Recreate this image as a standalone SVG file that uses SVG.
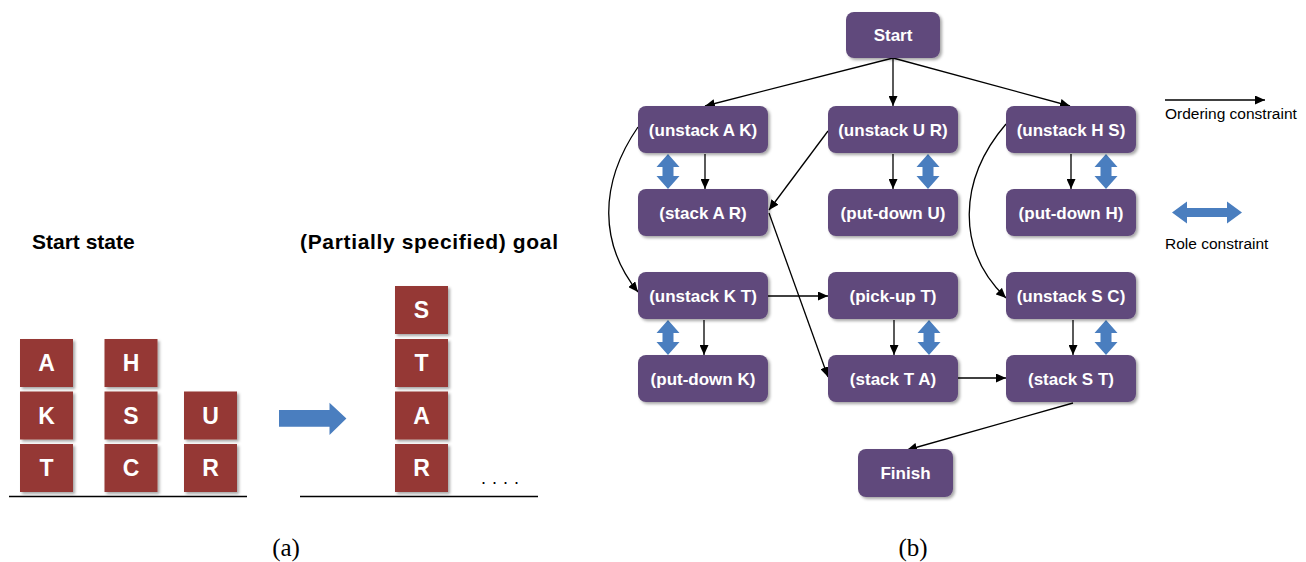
<svg xmlns="http://www.w3.org/2000/svg" width="1306" height="562" viewBox="0 0 1306 562">
<defs>
<filter id="sh" x="-10%" y="-10%" width="130%" height="140%">
<feDropShadow dx="2" dy="2" stdDeviation="1.5" flood-color="#000" flood-opacity="0.35"/>
</filter>
<marker id="ah" markerUnits="userSpaceOnUse" markerWidth="10" markerHeight="9" refX="10" refY="4.5" orient="auto">
<path d="M0,0 L10,4.5 L0,9 z" fill="#000"/>
</marker>
<path id="dbl" d="M0,0 L11.5,13 L5.5,13 L5.5,22 L11.5,22 L0,35 L-11.5,22 L-5.5,22 L-5.5,13 L-11.5,13 z" fill="#4a7ebf"/>
</defs>
<style>
.blk rect{fill:#953735;filter:url(#sh)}
.blk text{fill:#fff;font:bold 23px "Liberation Sans",Arial,sans-serif;text-anchor:middle}
.hd{fill:#000;font:bold 21px "Liberation Sans",Arial,sans-serif}
.node rect{fill:#604a7b;filter:url(#sh)}
.node text{fill:#fff;font:bold 17px "Liberation Sans",Arial,sans-serif;text-anchor:middle}
.edges path{fill:none;stroke:#000;stroke-width:1.3;marker-end:url(#ah)}
.lg{fill:#000;font:15.5px "Liberation Sans",Arial,sans-serif}
.cap{fill:#000;font:25px "Liberation Serif","DejaVu Serif",serif;text-anchor:middle}
.gl{stroke:#000;stroke-width:1.5}
</style>
<rect width="1306" height="562" fill="#fff"/>

<!-- (a) -->
<text class="hd" x="32" y="249">Start state</text>
<text class="hd" x="300" y="249" textLength="258">(Partially specified) goal</text>

<g id="blocks-start" class="blk">
<g id="blk-A"><rect x="20" y="339" width="53" height="48"/><text x="46.5" y="371">A</text></g>
<g id="blk-K"><rect x="20" y="391.5" width="53" height="48"/><text x="46.5" y="423.5">K</text></g>
<g id="blk-T"><rect x="20" y="444" width="53" height="48"/><text x="46.5" y="476">T</text></g>
<g id="blk-H"><rect x="104.5" y="339" width="53" height="48"/><text x="131" y="371">H</text></g>
<g id="blk-S"><rect x="104.5" y="391.5" width="53" height="48"/><text x="131" y="423.5">S</text></g>
<g id="blk-C"><rect x="104.5" y="444" width="53" height="48"/><text x="131" y="476">C</text></g>
<g id="blk-U"><rect x="184" y="391.5" width="53" height="48"/><text x="210.5" y="423.5">U</text></g>
<g id="blk-R"><rect x="184" y="444" width="53" height="48"/><text x="210.5" y="476">R</text></g>
</g>
<line class="gl" x1="9" y1="496.5" x2="247" y2="496.5"/>

<path id="big-arrow" d="M279,410 L329.5,410 L329.5,402.7 L346.4,418.5 L329.5,435 L329.5,426.7 L279,426.7 z" fill="#4a7ebf"/>

<g id="blocks-goal" class="blk">
<g id="goal-S"><rect x="395" y="286" width="53" height="48"/><text x="421.5" y="318">S</text></g>
<g id="goal-T"><rect x="395" y="339" width="53" height="48"/><text x="421.5" y="371">T</text></g>
<g id="goal-A"><rect x="395" y="391.5" width="53" height="48"/><text x="421.5" y="423.5">A</text></g>
<g id="goal-R"><rect x="395" y="444" width="53" height="48"/><text x="421.5" y="476">R</text></g>
</g>
<text x="481" y="484" style="font:18px 'Liberation Sans',Arial,sans-serif;letter-spacing:6px" fill="#000">....</text>
<line class="gl" x1="300" y1="496.5" x2="538" y2="496.5"/>

<text class="cap" x="286" y="556">(a)</text>
<text class="cap" x="913" y="556">(b)</text>

<!-- (b) connectors -->
<g id="connectors" class="edges">
<path d="M893,58 L705,106"/>
<path d="M893,58 L893,106"/>
<path d="M893,58 L1070,106"/>
<path d="M705,154 L705,189"/>
<path d="M893,154 L893,189"/>
<path d="M1071,154 L1071,189"/>
<path d="M828,131 L769,210"/>
<path d="M638,127 C598,185 600,245 638,292"/>
<path d="M1006,124 C958,180 956,250 1006,298"/>
<path d="M769,213 L828,377"/>
<path d="M768,296 L828,296"/>
<path d="M704,320 L704,355"/>
<path d="M894,320 L894,355"/>
<path d="M1073,320 L1073,355"/>
<path d="M958,378 L1006,378"/>
<path d="M1073,403 L907,450"/>
<path d="M1165,100 L1265,100"/>
</g>

<g id="role-constraints">
<use href="#dbl" x="668" y="154"/>
<use href="#dbl" x="928" y="154"/>
<use href="#dbl" x="1106" y="154"/>
<use href="#dbl" x="668" y="320"/>
<use href="#dbl" x="929" y="320"/>
<use href="#dbl" x="1106" y="320"/>
<path d="M1172,212.5 L1187,201.5 L1187,208 L1227,208 L1227,201.5 L1242,212.5 L1227,223.5 L1227,217 L1187,217 L1187,223.5 z" fill="#4a7ebf"/>
</g>

<text class="lg" x="1165" y="119">Ordering constraint</text>
<text class="lg" x="1165" y="249">Role constraint</text>

<g id="n-start" class="node"><rect x="846" y="12" width="94" height="46" rx="8"/><text x="893" y="41">Start</text></g>
<g id="n-unstackAK" class="node"><rect x="638" y="106" width="130" height="47" rx="8"/><text x="703" y="135.5">(unstack A K)</text></g>
<g id="n-unstackUR" class="node"><rect x="828" y="106" width="130" height="47" rx="8"/><text x="893" y="135.5">(unstack U R)</text></g>
<g id="n-unstackHS" class="node"><rect x="1006" y="106" width="130" height="47" rx="8"/><text x="1071" y="135.5">(unstack H S)</text></g>
<g id="n-stackAR" class="node"><rect x="638" y="189" width="130" height="47" rx="8"/><text x="703" y="218.5">(stack A R)</text></g>
<g id="n-putdownU" class="node"><rect x="828" y="189" width="130" height="47" rx="8"/><text x="893" y="218.5">(put-down U)</text></g>
<g id="n-putdownH" class="node"><rect x="1006" y="189" width="130" height="47" rx="8"/><text x="1071" y="218.5">(put-down H)</text></g>
<g id="n-unstackKT" class="node"><rect x="638" y="272" width="130" height="47" rx="8"/><text x="703" y="301.5">(unstack K T)</text></g>
<g id="n-pickupT" class="node"><rect x="828" y="272" width="130" height="47" rx="8"/><text x="893" y="301.5">(pick-up T)</text></g>
<g id="n-unstackSC" class="node"><rect x="1006" y="272" width="130" height="47" rx="8"/><text x="1071" y="301.5">(unstack S C)</text></g>
<g id="n-putdownK" class="node"><rect x="638" y="355" width="130" height="47" rx="8"/><text x="703" y="384.5">(put-down K)</text></g>
<g id="n-stackTA" class="node"><rect x="828" y="355" width="130" height="47" rx="8"/><text x="893" y="384.5">(stack T A)</text></g>
<g id="n-stackST" class="node"><rect x="1006" y="355" width="130" height="47" rx="8"/><text x="1071" y="384.5">(stack S T)</text></g>
<g id="n-finish" class="node"><rect x="858" y="449" width="95" height="48" rx="8"/><text x="905.5" y="479">Finish</text></g>
</svg>
